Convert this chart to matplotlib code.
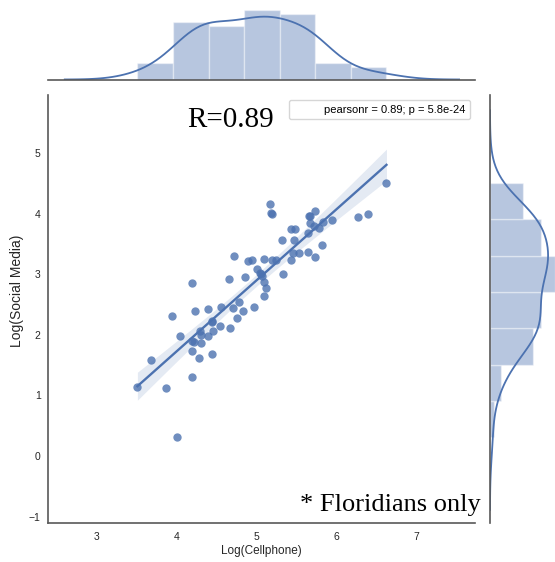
import numpy as np
import matplotlib.pyplot as plt
from matplotlib.lines import Line2D

# log-transformed usage, one entry per respondent
cellphone = [3.51, 3.68, 3.87, 4.01, 4.19, 4.04, 4.19, 4.28, 4.44, 4.22,
             4.31, 4.72, 4.90, 4.94, 5.10, 5.20, 5.25, 4.19, 4.66, 4.86,
             5.01, 5.04, 5.07, 5.10, 5.12, 5.10, 4.97, 4.78, 4.71, 4.83,
             4.76, 4.67, 4.56, 4.39, 4.23, 3.94, 4.44, 4.54, 4.46, 4.29,
             4.31, 4.39, 5.17, 5.19, 5.73, 5.66, 5.67, 5.72, 5.79, 5.84,
             5.95, 6.27, 6.40, 5.44, 5.49, 5.65, 5.32, 5.47, 5.82, 5.46,
             5.54, 5.65, 5.73, 5.43, 5.34, 6.63, 4.20, 4.45, 5.06, 5.18,
             5.67]
social_media = [1.14, 1.58, 1.12, 0.31, 1.30, 1.98, 1.73, 1.62, 1.69, 1.88,
                1.86, 3.30, 3.22, 3.24, 3.25, 3.23, 3.23, 2.86, 2.92, 2.96,
                3.08, 3.02, 2.97, 2.88, 2.78, 2.65, 2.46, 2.55, 2.45, 2.40,
                2.28, 2.12, 2.46, 2.43, 2.40, 2.31, 2.23, 2.14, 2.07, 2.07,
                2.00, 1.99, 4.16, 4.00, 4.05, 3.96, 3.85, 3.79, 3.77, 3.86,
                3.90, 3.95, 3.99, 3.75, 3.75, 3.69, 3.56, 3.57, 3.48, 3.36,
                3.36, 3.37, 3.28, 3.24, 3.00, 4.51, 1.90, 2.22, 3.00, 4.02,
                3.97]

x_ticks = [3, 4, 5, 6, 7]
y_ticks = [-1, 0, 1, 2, 3, 4, 5]
x_label = "Log(Cellphone)"
y_label = "Log(Social Media)"
r_text = "R=0.89"
stat_label = "pearsonr = 0.89; p = 5.8e-24"
note_text = "* Floridians only"

BLUE = "#4C72B0"
SPINE = "0.35"
W, H = 555, 562

plt.rcParams['font.family'] = ['Liberation Sans', 'DejaVu Sans']


def kde_curve(values, gridsize=100, cut=3):
    v = np.asarray(values)
    n = len(v)
    iqr = np.subtract(*np.percentile(v, [75, 25]))
    a = min(v.std(ddof=1), iqr / 1.349)
    bw = 1.059 * a * n ** (-0.2)
    grid = np.linspace(v.min() - cut * bw, v.max() + cut * bw, gridsize)
    dens = np.exp(-0.5 * ((grid[:, None] - v[None, :]) / bw) ** 2).sum(axis=1)
    dens /= n * bw * np.sqrt(2 * np.pi)
    return grid, dens


def fit_with_ci(x, y, grid):
    x = np.asarray(x)
    y = np.asarray(y)
    n = len(x)
    slope, icept = np.polyfit(x, y, 1)
    resid = y - (slope * x + icept)
    s = np.sqrt((resid ** 2).sum() / (n - 2))
    sxx = ((x - x.mean()) ** 2).sum()
    se = s * np.sqrt(1.0 / n + (grid - x.mean()) ** 2 / sxx)
    t = 1.994  # t(0.975, n-2) for n ~ 71
    yhat = slope * grid + icept
    return yhat, yhat - t * se, yhat + t * se


def px_axes(fig, left, top, right, bottom):
    return fig.add_axes([left / W, 1 - bottom / H, (right - left) / W, (bottom - top) / H])


fig = plt.figure(figsize=(W / 100, H / 100), dpi=100)
ax = px_axes(fig, 48.3, 95, 475, 522.7)
ax_top = px_axes(fig, 48.3, 6.7, 475, 79.5)
ax_right = px_axes(fig, 490, 95, 563, 522.7)

# joint scatter + regression fit
ax.scatter(cellphone, social_media, s=36, color=BLUE, alpha=0.8, linewidths=0, zorder=3)
xs = np.linspace(min(cellphone), max(cellphone), 100)
yhat, lo, hi = fit_with_ci(cellphone, social_media, xs)
ax.fill_between(xs, lo, hi, color=BLUE, alpha=0.15, linewidth=0, zorder=1)
ax.plot(xs, yhat, color=BLUE, lw=1.7, zorder=2)

ax.set_xlim(2.394, 7.739)
ax.set_ylim(-1.10, 5.96)
ax.set_xticks(x_ticks)
ax.set_yticks(y_ticks)
ax.tick_params(axis='x', length=0, pad=6.5, labelsize=7.5, labelcolor='0.15')
ax.tick_params(axis='y', length=0, pad=5.5, labelsize=7.5, labelcolor='0.15')
ax.set_xlabel(x_label, fontsize=8.5, color='0.15', labelpad=2.5)
ax.set_ylabel(y_label, fontsize=10, color='0.15')
ax.yaxis.set_label_coords(-0.056, 0.542)
for side in ['top', 'right']:
    ax.spines[side].set_visible(False)
for side in ['left', 'bottom']:
    ax.spines[side].set_color(SPINE)
    ax.spines[side].set_linewidth(1.2)

h = Line2D([], [], linestyle='none', alpha=0)
ax.legend([h], [stat_label], loc='upper right', fontsize=8, frameon=True,
          borderaxespad=0, bbox_to_anchor=(0.988, 0.988))

ax.text(0.325, 0.926, r_text, transform=ax.transAxes, fontsize=21,
        family='Liberation Serif', va='baseline', ha='left')
fig.text(481 / W, 1 - 511.5 / H, note_text, fontsize=19,
         family='Liberation Serif', va='baseline', ha='right')

# marginal distributions
ax_top.hist(cellphone, bins=7, density=True, color=BLUE, alpha=0.4,
            edgecolor='white', linewidth=1)
gx, dx = kde_curve(cellphone)
ax_top.plot(gx, dx, color=BLUE, lw=1.3)
ax_top.set_xlim(ax.get_xlim())
ax_top.set_ylim(0, None)

counts_y, _, _ = ax_right.hist(social_media, bins=7, density=True, color=BLUE, alpha=0.4,
                               edgecolor='white', linewidth=1, orientation='horizontal')
gy, dy = kde_curve(social_media)
ax_right.plot(dy, gy, color=BLUE, lw=1.3)
ax_right.set_ylim(ax.get_ylim())
ax_right.set_xlim(0, counts_y.max() * 1.12)

for a, keep in [(ax_top, 'bottom'), (ax_right, 'left')]:
    a.set_xticks([])
    a.set_yticks([])
    a.patch.set_alpha(0)
    for side in a.spines:
        a.spines[side].set_visible(side == keep)
    a.spines[keep].set_color(SPINE)
    a.spines[keep].set_linewidth(1.2)

fig.savefig('out.png', dpi=100)
